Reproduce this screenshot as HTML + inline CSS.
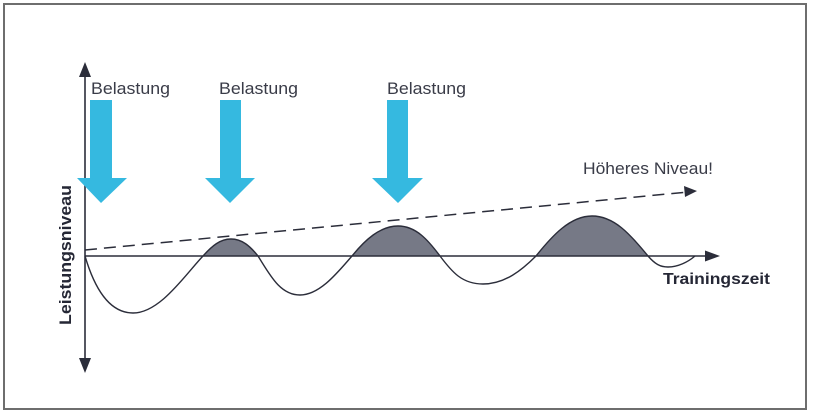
<!DOCTYPE html>
<html><head><meta charset="utf-8"><style>
html,body{margin:0;padding:0;background:#fff;width:813px;height:415px;overflow:hidden}
svg{display:block}
</style></head><body>
<svg width="813" height="415" viewBox="0 0 813 415" xmlns="http://www.w3.org/2000/svg">
<rect x="4" y="4" width="802" height="405" fill="#fff" stroke="#6e6e6e" stroke-width="2"/>
<path d="M203,256 C212,246 220,239 231,239 C242,239 250,246 258,256 Z" fill="#767986"/>
<path d="M352,256 C365,240 380,226 398,226 C416,226 428,240 440,256 Z" fill="#767986"/>
<path d="M536,256 C552,236 570,216 592,216 C614,216 630,234 648,256 Z" fill="#767986"/>
<line x1="85" y1="72" x2="85" y2="364" stroke="#2b2d3a" stroke-width="1.6"/>
<polygon points="85,62 79,77 91,77" fill="#2b2d3a"/>
<polygon points="85,373 79,358 91,358" fill="#2b2d3a"/>
<line x1="85" y1="256" x2="710" y2="256" stroke="#2b2d3a" stroke-width="1.6"/>
<polygon points="720,256 705,250.5 705,261.5" fill="#2b2d3a"/>
<path d="M85,256 C95,290 110,313 133,313 C160,313 185,275 203,256 C212,246 220,239 231,239 C242,239 250,246 258,256 C270,275 280,295 300,295 C320,295 338,272 352,256 C365,240 380,226 398,226 C416,226 428,240 440,256 C452,272 462,284 483,284 C505,284 522,270 536,256 C552,236 570,216 592,216 C614,216 630,234 648,256 C655,264 660,267 668,267 C678,267 688,262 695,256" fill="none" stroke="#2b2d3a" stroke-width="1.4"/>
<line x1="85" y1="250" x2="688" y2="192" stroke="#2b2d3a" stroke-width="1.5" stroke-dasharray="12,7"/>
<polygon points="697,191 684,186 685,197" fill="#2b2d3a"/>
<g fill="#35b9e0">
<polygon points="90,100 112,100 112,178 127,178 101,203 77,178 90,178"/>
<polygon points="220,100 241,100 241,178 255,178 230,203 205,178 220,178"/>
<polygon points="387,100 408,100 408,178 423,178 398,203 372,178 387,178"/>
</g>
<g font-family="Liberation Sans, sans-serif" fill="#3a3c48">
<text x="91" y="94" font-size="17" textLength="79" lengthAdjust="spacingAndGlyphs">Belastung</text>
<text x="219" y="94" font-size="17" textLength="79" lengthAdjust="spacingAndGlyphs">Belastung</text>
<text x="387" y="94" font-size="17" textLength="79" lengthAdjust="spacingAndGlyphs">Belastung</text>
<text x="583" y="174" font-size="17" textLength="130" lengthAdjust="spacingAndGlyphs">Höheres Niveau!</text>
<text x="663" y="284" font-size="16" font-weight="bold" fill="#252735" textLength="107" lengthAdjust="spacingAndGlyphs">Trainingszeit</text>
<text transform="translate(71,255) rotate(-90)" text-anchor="middle" font-size="17" font-weight="bold" fill="#252735" textLength="140" lengthAdjust="spacingAndGlyphs">Leistungsniveau</text>
</g>
</svg>
</body></html>
